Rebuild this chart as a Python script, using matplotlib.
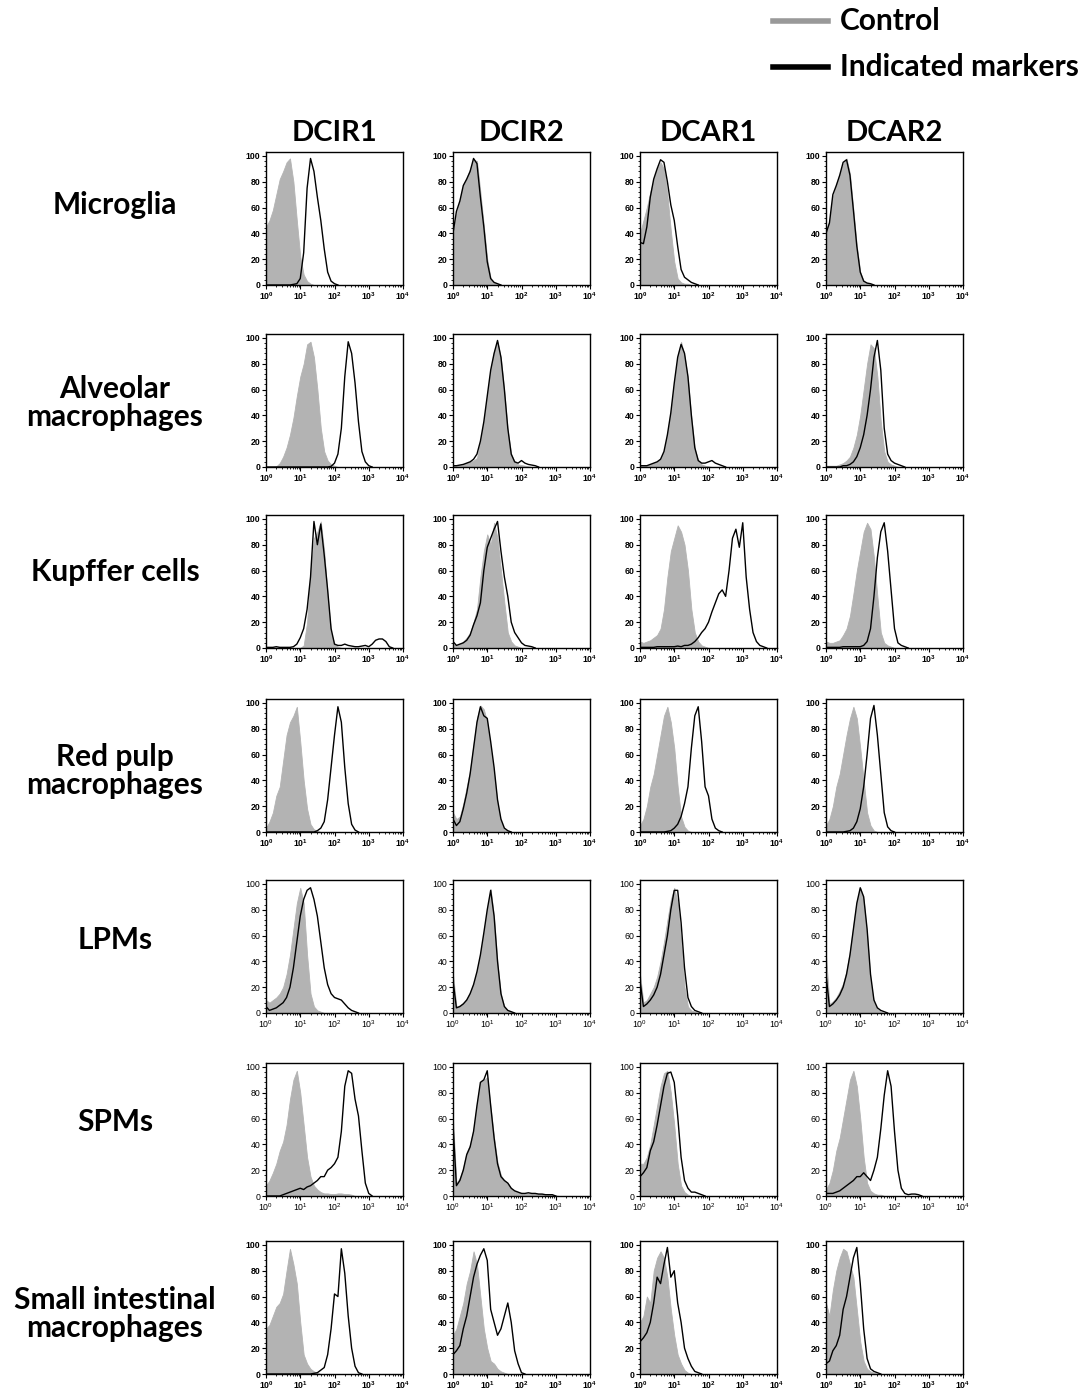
import numpy as np
import matplotlib.pyplot as plt
from matplotlib.lines import Line2D
from matplotlib.ticker import FixedLocator, MultipleLocator, NullFormatter

plt.rcParams['font.family'] = ['Lato', 'DejaVu Sans']
plt.rcParams['mathtext.default'] = 'regular'

# histogram bins on log10 scale (0 .. 4 decades, step 0.1)
LOG_BINS = np.round(np.arange(0, 4.01, 0.1), 1)

markers = ['DCIR1', 'DCIR2', 'DCAR1', 'DCAR2']
cell_types = ['Microglia', 'Alveolar\nmacrophages', 'Kupffer cells', 'Red pulp\nmacrophages',
              'LPMs', 'SPMs', 'Small intestinal\nmacrophages']
x_ticklabels = ['$10^0$', '$10^1$', '$10^2$', '$10^3$', '$10^4$']
y_ticks = [0, 20, 40, 60, 80, 100]

# % of max; one list per marker column
microglia_ctrl = [
    [45, 50, 58, 70, 82, 88, 95, 98, 80, 50, 22, 8, 3, 1, 0],
    [38, 55, 66, 78, 83, 90, 97, 96, 72, 46, 20, 5, 2, 1, 0],
    [40, 50, 60, 72, 82, 90, 95, 90, 70, 42, 18, 5, 2, 1, 1, 0],
    [42, 50, 68, 78, 86, 94, 98, 86, 58, 30, 10, 3, 1.5, 1, 0],
]
microglia_mark = [
    [0, 0, 0, 0, 0, 0, 0, 0, 0.5, 1, 5, 25, 75, 98, 88, 68, 50, 28, 10, 3, 1, 0],
    [40, 57, 65, 77, 82, 88, 98, 94, 68, 45, 18, 5, 2, 1, 0],
    [33, 32, 45, 68, 82, 90, 97, 95, 80, 62, 50, 30, 12, 6, 4, 2, 1, 0],
    [40, 48, 70, 77, 85, 95, 97, 85, 58, 30, 10, 3, 1.5, 1, 0],
]

alveolar_ctrl = [
    [0, 0, 0, 0.5, 3, 8, 15, 25, 38, 55, 70, 80, 95, 97, 85, 60, 30, 12, 5, 2, 1, 0],
    [1, 1, 1.5, 2, 3, 4, 5, 7, 20, 36, 56, 76, 90, 97, 84, 58, 28, 10, 4, 2, 1.5, 1, 0.5, 0],
    [1, 1, 1, 2, 3, 4, 6, 12, 26, 44, 66, 86, 97, 86, 68, 38, 14, 5, 2, 1, 0.5, 0],
    [1, 1, 1, 1, 2, 3, 5, 8, 15, 25, 40, 60, 80, 95, 92, 70, 35, 12, 4, 2, 1, 0],
]
alveolar_mark = [
    [0, 0, 0, 0, 0, 0, 0, 0, 0, 0, 0, 0, 0, 0, 0, 0, 0, 0, 0, 0.5, 3, 10, 30, 70, 97, 88, 65, 35, 12, 4, 1, 0],
    [1, 1, 1.5, 2, 3, 4, 6, 10, 20, 35, 55, 75, 88, 98, 85, 60, 30, 10, 4, 3, 5, 3, 2, 1.5, 1, 0],
    [1, 1, 1, 2, 3, 4, 6, 12, 25, 42, 65, 85, 95, 88, 70, 40, 15, 5, 3, 3, 4, 5, 3, 2, 1, 0],
    [0, 0, 0, 0, 0, 1, 1, 2, 4, 8, 15, 25, 40, 60, 85, 98, 75, 30, 10, 5, 3, 2, 1, 0],
]

kupffer_ctrl = [
    [0, 0, 0, 0, 0, 0, 0, 0, 0, 0, 0, 2, 20, 60, 85, 90, 98, 75, 40, 12, 3, 1, 0],
    [3, 2, 3, 5, 8, 12, 20, 30, 55, 75, 88, 80, 97, 85, 60, 35, 12, 5, 2, 1, 0],
    [5, 4, 5, 6, 8, 10, 15, 30, 55, 75, 85, 95, 90, 80, 60, 30, 12, 5, 2, 1, 0],
    [5, 4, 4, 5, 6, 10, 15, 25, 42, 60, 75, 90, 97, 92, 70, 40, 12, 4, 2, 1, 0],
]
kupffer_mark = [
    [0.5, 0.5, 0.5, 1, 0.5, 0.5, 0.5, 0.5, 1, 3, 8, 15, 30, 55, 98, 80, 96, 72, 45, 15, 3, 2, 2, 3, 2,
     1.5, 1, 1, 1.5, 2, 1, 3, 6, 7, 7, 5, 1, 0],
    [5, 2, 3, 4, 6, 10, 18, 25, 35, 60, 78, 85, 92, 98, 75, 55, 40, 20, 12, 8, 4, 2, 1.5, 1, 0],
    [0.5, 0.5, 0.5, 0.5, 0.5, 1, 1, 1, 1, 1, 1, 1.5, 1, 2, 2, 3, 5, 8, 12, 15, 20, 28, 35, 42, 45, 40,
     60, 85, 92, 78, 97, 55, 30, 12, 5, 2, 1, 0],
    [0.5, 0.5, 0.5, 0.5, 0.5, 1, 1, 1, 1, 1, 1, 2, 5, 15, 40, 70, 90, 97, 75, 45, 15, 4, 2, 1, 0],
]

redpulp_ctrl = [
    [3, 8, 15, 28, 35, 55, 75, 85, 90, 97, 70, 40, 18, 6, 2, 1, 0],
    [15, 10, 12, 22, 35, 48, 68, 88, 98, 95, 85, 65, 45, 22, 8, 2, 1, 0],
    [5, 10, 20, 35, 45, 60, 75, 90, 97, 85, 65, 35, 12, 4, 1, 0],
    [5, 10, 20, 35, 45, 60, 75, 88, 97, 88, 65, 40, 15, 5, 1, 0],
]
redpulp_mark = [
    [0, 0, 0, 0, 0, 0, 0, 0, 0, 0, 0, 0, 0, 0, 0, 1, 3, 8, 25, 50, 75, 97, 85, 50, 22, 6, 1.5, 0],
    [10, 5, 8, 18, 30, 45, 65, 85, 97, 90, 88, 70, 50, 25, 10, 3, 1, 0],
    [0, 0, 0, 0, 0, 0, 0, 0, 0.5, 1, 3, 6, 12, 22, 35, 65, 90, 97, 70, 35, 28, 10, 3, 1, 0],
    [0, 0, 0, 0, 0, 0, 0.5, 1, 3, 8, 18, 35, 60, 88, 98, 75, 45, 15, 4, 1, 0],
]

lpm_ctrl = [
    [10, 8, 10, 12, 15, 20, 30, 45, 65, 85, 97, 85, 45, 15, 5, 2, 1, 0],
    [30, 5, 6, 8, 11, 16, 23, 33, 46, 63, 81, 96, 74, 38, 14, 5, 2, 1, 0],
    [30, 8, 10, 15, 20, 28, 40, 55, 72, 88, 97, 85, 55, 20, 5, 2, 1, 0],
    [45, 7, 9, 12, 17, 23, 33, 48, 68, 87, 97, 88, 60, 25, 8, 3, 1, 0],
]
lpm_mark = [
    [5, 2, 3, 4, 6, 8, 12, 20, 35, 55, 75, 88, 95, 97, 88, 75, 55, 35, 22, 15, 12, 11, 10, 7, 4, 2, 1, 0],
    [25, 4, 5, 7, 10, 15, 22, 32, 45, 62, 80, 95, 75, 40, 15, 5, 2, 1, 0],
    [25, 5, 7, 10, 14, 20, 30, 45, 60, 80, 95, 95, 70, 35, 12, 5, 2, 1, 0],
    [30, 5, 7, 10, 14, 20, 30, 45, 65, 85, 97, 90, 65, 30, 10, 4, 2, 1, 0],
]

spm_ctrl = [
    [8, 12, 18, 25, 35, 42, 55, 75, 90, 97, 80, 55, 30, 15, 8, 5, 3, 2, 2, 1.5, 1.5, 2, 2, 1.5, 1.5, 1, 0],
    [60, 10, 14, 22, 34, 40, 52, 72, 88, 90, 92, 68, 45, 26, 16, 12, 10, 6, 4, 3, 2.5, 2, 2, 2, 2,
     1.5, 1.5, 1, 1, 1, 0.5, 0],
    [25, 25, 30, 40, 55, 70, 85, 95, 97, 80, 55, 25, 8, 3, 1, 0],
    [5, 10, 20, 35, 45, 60, 75, 90, 97, 85, 60, 30, 10, 4, 2, 1, 1, 0],
]
spm_mark = [
    [0, 0, 0, 0, 0, 1, 2, 3, 4, 5, 6, 5, 7, 8, 10, 12, 15, 15, 20, 22, 25, 30, 50, 85, 97, 95, 75, 62, 35, 10, 2, 0],
    [55, 8, 12, 20, 32, 38, 50, 70, 88, 90, 97, 70, 45, 25, 15, 12, 10, 6, 4, 3, 2, 2, 2.5, 2, 2,
     1.5, 1.5, 1, 1, 1, 0],
    [15, 18, 22, 35, 42, 55, 70, 85, 95, 96, 88, 62, 30, 12, 6, 3, 3, 2, 1, 0],
    [2, 2, 2, 3, 4, 6, 8, 10, 12, 15, 15, 18, 15, 12, 20, 30, 52, 78, 97, 85, 50, 20, 6, 2, 1, 1.5, 1.5, 1, 0],
]

intestinal_ctrl = [
    [35, 38, 45, 52, 55, 62, 80, 97, 85, 70, 40, 15, 8, 4, 2, 1, 0],
    [30, 35, 45, 55, 70, 80, 95, 85, 60, 35, 20, 10, 8, 4, 2, 1, 0],
    [40, 45, 60, 55, 80, 90, 95, 90, 75, 50, 30, 15, 8, 3, 1, 0],
    [55, 45, 65, 80, 90, 97, 95, 85, 75, 50, 25, 10, 4, 2, 1, 0],
]
intestinal_mark = [
    [0, 0, 0, 0, 0, 0, 0, 0, 0, 0, 0, 0, 0, 0, 0.5, 1, 3, 5, 15, 35, 62, 60, 97, 78, 45, 20, 6, 1, 0],
    [15, 18, 22, 35, 45, 60, 75, 85, 92, 97, 88, 50, 40, 30, 35, 45, 55, 40, 18, 8, 1, 0],
    [25, 28, 32, 40, 55, 75, 70, 85, 98, 75, 80, 55, 40, 20, 12, 6, 2, 1, 0],
    [8, 10, 18, 22, 30, 50, 60, 75, 90, 98, 70, 35, 12, 4, 2, 1, 0],
]

controls = [microglia_ctrl, alveolar_ctrl, kupffer_ctrl, redpulp_ctrl, lpm_ctrl, spm_ctrl, intestinal_ctrl]
stained = [microglia_mark, alveolar_mark, kupffer_mark, redpulp_mark, lpm_mark, spm_mark, intestinal_mark]
bold_ticks = [True, True, True, True, False, False, True]

W, H = 1091, 1393
fig = plt.figure(figsize=(W / 100, H / 100), dpi=100)

col_left = [266, 453, 640, 826]
row_base = [285, 467, 648, 832, 1013, 1196, 1374]
ax_w, ax_h = 137, 133
label_y = [205, 403, 572, 771, 940, 1122, 1314]

tick_font = ['Liberation Sans Narrow', 'Liberation Sans', 'DejaVu Sans']

for r in range(7):
    for c in range(4):
        ax = fig.add_axes([col_left[c] / W, 1 - row_base[r] / H, ax_w / W, ax_h / H])
        ctrl = controls[r][c]
        mark = stained[r][c]
        xc = 10 ** LOG_BINS[:len(ctrl)]
        xm = 10 ** LOG_BINS[:len(mark)]
        ax.fill_between(xc, ctrl, color='#b3b3b3', lw=0.6, edgecolor='#b3b3b3', zorder=1)
        ax.plot(xm, mark, color='black', lw=1.0, zorder=2)
        ax.set_xscale('log')
        ax.set_xlim(1, 1e4)
        ax.set_ylim(0, 103)
        ax.set_xticks([1, 10, 100, 1000, 10000])
        ax.set_xticklabels(x_ticklabels)
        minors = [m * 10 ** d for d in range(4) for m in range(2, 10)]
        ax.xaxis.set_minor_locator(FixedLocator(minors))
        ax.xaxis.set_minor_formatter(NullFormatter())
        ax.set_yticks(y_ticks)
        ax.yaxis.set_minor_locator(MultipleLocator(4))
        wt = 'bold' if bold_ticks[r] else 'normal'
        ax.tick_params(axis='both', which='major', length=3, width=0.8, pad=1.0,
                       labelsize=6.3)
        ax.tick_params(axis='both', which='minor', length=1.5, width=0.6)
        for lab in ax.get_xticklabels() + ax.get_yticklabels():
            lab.set_family(tick_font)
            lab.set_fontweight(wt)
        for sp in ax.spines.values():
            sp.set_linewidth(1.0)
        if r == 0:
            ax.set_title(markers[c], fontsize=21, fontweight='bold', pad=8)
    fig.text(115 / W, 1 - label_y[r] / H, cell_types[r], ha='center', va='center',
             fontsize=21.5, fontweight='bold', linespacing=1.02)

# legend drawn in figure space
fig.add_artist(Line2D([773 / W, 828 / W], [1 - 21 / H, 1 - 21 / H], color='#999999', lw=4))
fig.add_artist(Line2D([773 / W, 828 / W], [1 - 67 / H, 1 - 67 / H], color='black', lw=4))
fig.text(840 / W, 1 - 21 / H, 'Control', ha='left', va='center', fontsize=21.5, fontweight='bold')
fig.text(840 / W, 1 - 67 / H, 'Indicated markers', ha='left', va='center', fontsize=21.5, fontweight='bold')

fig.savefig('out.png', dpi=100)
